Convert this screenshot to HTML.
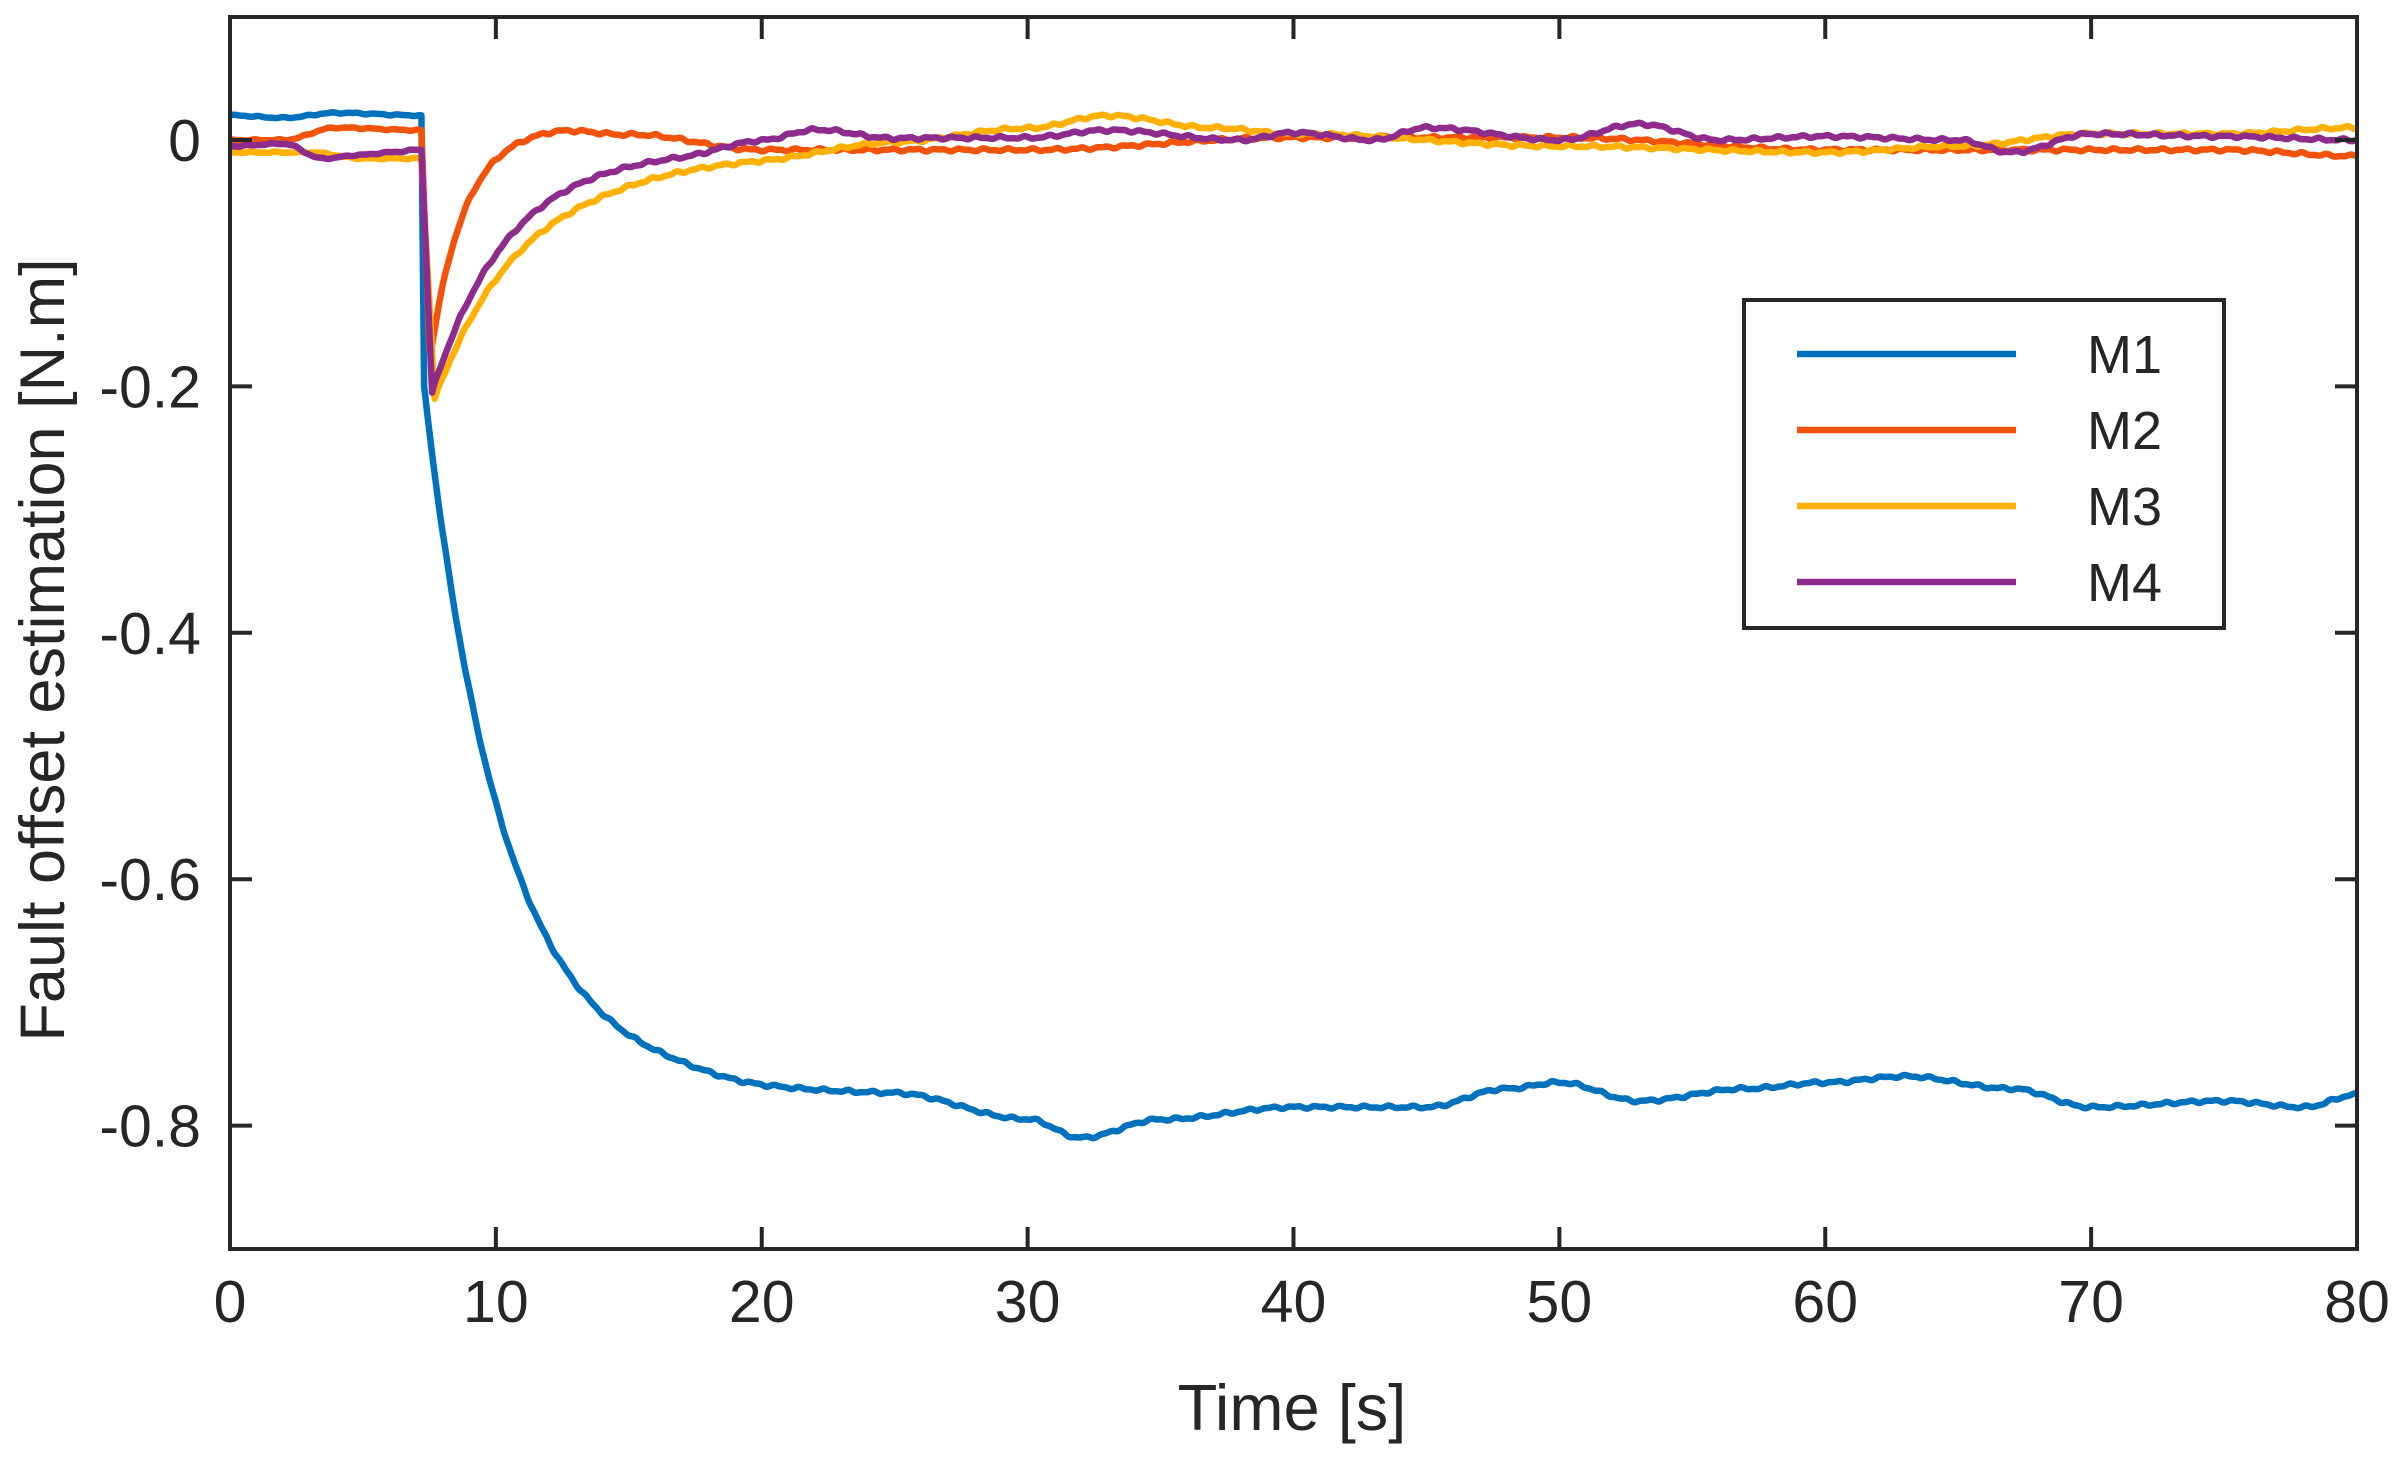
<!DOCTYPE html>
<html><head><meta charset="utf-8"><style>
html,body{margin:0;padding:0;background:#fff;}
svg{display:block;}
text{font-family:"Liberation Sans",Arial,sans-serif;fill:#262626;}
</style></head><body>
<svg id="s" width="2403" height="1462" viewBox="0 0 2403 1462" xmlns="http://www.w3.org/2000/svg">
<rect width="2403" height="1462" fill="#fff"/>
<g id="series" fill="none" stroke-width="6.5" stroke-linejoin="round"></g>
<rect x="230" y="17" width="2127" height="1232" fill="none" stroke="#262626" stroke-width="4"/>
<g id="ticks" stroke="#262626" stroke-width="4"></g>
<g id="labels" font-size="59"></g>
<text x="1292" y="1430" font-size="65" text-anchor="middle">Time [s]</text>
<text transform="translate(64,650) rotate(-90)" font-size="63" text-anchor="middle">Fault offset estimation [N.m]</text>
<rect x="1744" y="300" width="480" height="328" fill="#fff" stroke="#262626" stroke-width="4"/>
<line x1="1797" y1="354" x2="2016" y2="354" stroke="#0072BD" stroke-width="6.5"/>
<line x1="1797" y1="430" x2="2016" y2="430" stroke="#F2530A" stroke-width="6.5"/>
<line x1="1797" y1="506" x2="2016" y2="506" stroke="#FFB000" stroke-width="6.5"/>
<line x1="1797" y1="582" x2="2016" y2="582" stroke="#8E2C8E" stroke-width="6.5"/>
<text x="2087" y="373" font-size="54" fill="#000">M1</text>
<text x="2087" y="449" font-size="54" fill="#000">M2</text>
<text x="2087" y="525" font-size="54" fill="#000">M3</text>
<text x="2087" y="601" font-size="54" fill="#000">M4</text>
</svg>
<script>
var X=function(t){return 230+t*2127/80;},Y=function(v){return 140-v*1232;};
var ns="http://www.w3.org/2000/svg",tk=document.getElementById('ticks'),lb=document.getElementById('labels');
function el(p,n,a,txt){var e=document.createElementNS(ns,n);for(var k in a)e.setAttribute(k,a[k]);if(txt)e.textContent=txt;p.appendChild(e);return e;}
for(var i=0;i<=8;i++){var x=X(i*10);el(tk,'line',{x1:x,y1:1249,x2:x,y2:1227});el(tk,'line',{x1:x,y1:17,x2:x,y2:39});el(lb,'text',{x:x,y:1322,'text-anchor':'middle'},String(i*10));}
[0,-0.2,-0.4,-0.6,-0.8].forEach(function(v){var y=Y(v);el(tk,'line',{x1:230,y1:y,x2:252,y2:y});el(tk,'line',{x1:2357,y1:y,x2:2335,y2:y});el(lb,'text',{x:201,y:y+21,'text-anchor':'end'},v==0?'0':v.toFixed(1));});
function interp(pts,t){for(var i=0;i<pts.length-1;i++){if(t<=pts[i+1][0]){var a=pts[i],b=pts[i+1],f=(t-a[0])/(b[0]-a[0]);f=(1-Math.cos(Math.PI*f))/2;return a[1]+(b[1]-a[1])*f;}}return pts[pts.length-1][1];}
function noise(t,s){return 0.0008*Math.sin(t*7.1+s)+0.0005*Math.sin(t*13.3+2*s);}
var series=[
{c:"#0072BD",pre:[[0,0.02],[2,0.018],[4,0.022],[7.1,0.02]],drop:7.3,dv:-0.2,f:function(t){return -0.77+0.57*Math.exp(-(t-7.3)/3.0);},
 base:[[7.3,0],[16,0],[20,-0.005],[25,-0.005],[30,-0.025],[32,-0.04],[35,-0.025],[40,-0.015],[45,-0.015],[48,0],[50,0.005],[53,-0.01],[57,0],[60,0.005],[63,0.01],[67,0],[70,-0.015],[75,-0.01],[78,-0.015],[80,-0.005]]},
{c:"#F2530A",pre:[[0,0.0],[2,0.0],[4,0.01],[7.1,0.008]],drop:7.5,dv:-0.17,f:function(t){var u=t-7.5;return -0.18*Math.exp(-u/1.3)+0.012*(1-Math.exp(-u/1.3));},
 base:[[7.5,0],[12,0],[15,-0.007],[20,-0.02],[25,-0.02],[30,-0.02],[40,-0.01],[50,-0.01],[60,-0.02],[70,-0.02],[75,-0.02],[80,-0.025]]},
{c:"#FFB000",pre:[[0,-0.01],[3,-0.01],[5,-0.015],[7.1,-0.015]],drop:7.7,dv:-0.21,f:function(t){return -0.21*Math.exp(-(t-7.7)/3.6);},
 base:[[7.7,0],[15,-0.01],[20,-0.01],[25,0],[30,0.01],[33,0.02],[37,0.01],[40,0.005],[50,-0.005],[60,-0.01],[65,-0.005],[70,0.005],[75,0.005],[80,0.01]]},
{c:"#8E2C8E",pre:[[0,-0.005],[2,-0.003],[3.5,-0.015],[5,-0.012],[6,-0.01],[7.1,-0.008]],drop:7.6,dv:-0.205,f:function(t){return -0.205*Math.exp(-(t-7.6)/3.0);},
 base:[[7.6,0],[17,-0.005],[20,0.003],[22,0.01],[25,0.002],[30,0.002],[33,0.008],[38,0],[40,0.006],[43,0],[45,0.01],[50,0],[53,0.013],[56,0],[60,0.003],[65,0],[67,-0.01],[70,0.005],[75,0.003],[80,0.0]]}
];
var g=document.getElementById('series');
series.forEach(function(s,k){var d=[];
 for(var t=0;t<=7.1;t+=0.1)d.push([t,interp(s.pre,t)+noise(t,k)*0.5]);
 d.push([7.2,interp(s.pre,7.1)]);d.push([s.drop,s.dv]);
 for(var t=s.drop+0.05;t<=80;t+=0.08)d.push([t,s.f(t)+interp(s.base,t)+noise(t,k)]);
 var p='M'+d.map(function(q){return X(q[0]).toFixed(1)+','+Y(q[1]).toFixed(1);}).join('L');
 el(g,'path',{d:p,stroke:s.c});});
</script>
</body></html>
